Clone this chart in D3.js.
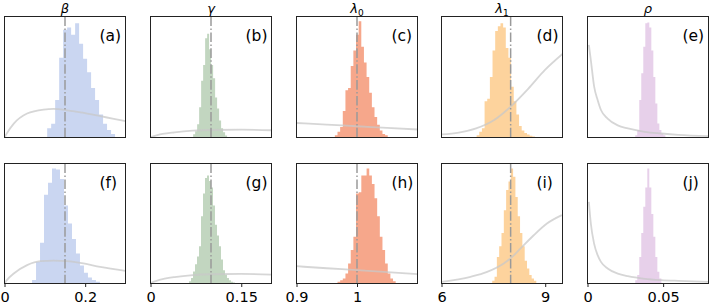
<!DOCTYPE html>
<html>
<head>
<meta charset="utf-8">
<script src="https://cdn.jsdelivr.net/npm/d3@7"></script>
<style>
  body { margin: 0; background: #fff; }
  text { font-family: "DejaVu Sans", sans-serif; }
</style>
</head>
<body>
<svg id="chart" width="709" height="307"></svg>
<script>
// parameter columns
const PARAMS = ["β", "γ", "λ", "λ", "ρ"];
const PARAM_SUBS = ["", "", "0", "1", ""];
const PANEL_LABELS = [["(a)", "(b)", "(c)", "(d)", "(e)"], ["(f)", "(g)", "(h)", "(i)", "(j)"]];
const X_DOMAINS = [[0, 0.3], [0, 0.2], [0.9, 1.1], [6, 9.5], [0, 0.08]];
const TICKS = [[0, 0.2], [0, 0.15], [0.9, 1], [6, 9], [0, 0.05]];
const TRUE_VALUES = [0.15, 0.1, 1, 8, null];
const HIST_COLORS = ["#cad6f1", "#c2d6c0", "#f6a78b", "#fdd39d", "#e7d0ea"];

// histograms: [first bin edge, bin width, heights] (heights scaled to axis height)
const histA = [0.1058, 0.0099, [0.076, 0.113, 0.31, 0.66, 0.89, 0.91, 0.85, 0.945, 0.775, 0.65, 0.54, 0.41, 0.31, 0.19, 0.113, 0.061, 0.028]];
const histB = [0.0705, 0.0033, [0.026, 0.051, 0.11, 0.25, 0.47, 0.6, 0.82, 0.857, 0.73, 0.6, 0.49, 0.33, 0.24, 0.14, 0.077, 0.043, 0.017]];
const histC = [0.9634, 0.00437, [0.019, 0.048, 0.086, 0.22, 0.39, 0.41, 0.59, 0.72, 0.85, 0.96, 0.75, 0.62, 0.5, 0.37, 0.25, 0.17, 0.105, 0.058, 0.029, 0.019]];
const histD = [7.016, 0.0767, [0.019, 0.047, 0.076, 0.3, 0.32, 0.5, 0.72, 0.88, 0.92, 0.945, 0.91, 0.74, 0.66, 0.42, 0.3, 0.19, 0.095, 0.057, 0.038, 0.024, 0.014, 0.009]];
const histE = [0.03156, 0.00133, [0.019, 0.061, 0.31, 0.53, 0.75, 0.945, 0.95, 0.91, 0.72, 0.5, 0.28, 0.116, 0.061, 0.033, 0.019]];
const histF = [0.0683, 0.0099, [0.03, 0.18, 0.34, 0.74, 0.84, 0.958, 0.95, 0.87, 0.65, 0.5, 0.37, 0.25, 0.15, 0.09, 0.05, 0.03, 0.015]];
const histG = [0.0637, 0.0033, [0.018, 0.045, 0.1, 0.16, 0.225, 0.31, 0.56, 0.75, 0.88, 0.9, 0.855, 0.8, 0.65, 0.49, 0.4, 0.31, 0.2, 0.11, 0.072, 0.045, 0.027, 0.014, 0.009]];
const histH = [0.9678, 0.00437, [0.014, 0.028, 0.042, 0.083, 0.167, 0.28, 0.39, 0.75, 0.76, 0.9, 0.9, 0.958, 0.9, 0.83, 0.71, 0.56, 0.39, 0.28, 0.167, 0.083, 0.042, 0.019]];
const histI = [7.467, 0.0671, [0.022, 0.056, 0.22, 0.31, 0.42, 0.61, 0.78, 0.85, 0.958, 0.89, 0.72, 0.56, 0.42, 0.31, 0.19, 0.125, 0.07, 0.042, 0.022]];
const histJ = [0.03156, 0.00133, [0.028, 0.07, 0.22, 0.42, 0.64, 0.8, 0.958, 0.8, 0.58, 0.39, 0.22, 0.097, 0.042]];

// prior densities, same vertical units
const priorA = [[0, 0], [0.005, 0.03], [0.023, 0.115], [0.056, 0.198], [0.097, 0.231], [0.122, 0.236], [0.155, 0.225], [0.197, 0.203], [0.238, 0.176], [0.271, 0.154], [0.3, 0.135]];
const priorB = [[0, 0.004], [0.01, 0.018], [0.02, 0.03], [0.04, 0.043], [0.07, 0.056], [0.1, 0.062], [0.15, 0.065], [0.2, 0.06]];
const priorC = [[0.9, 0.12], [0.95, 0.106], [1.0, 0.093], [1.05, 0.079], [1.1, 0.066]];
const priorD = [[6, 0.025], [6.5, 0.04], [7, 0.075], [7.5, 0.14], [8, 0.255], [8.5, 0.4], [9, 0.56], [9.5, 0.69]];
const priorE = [[0.0009, 0.765], [0.0022, 0.64], [0.0044, 0.42], [0.0067, 0.31], [0.0089, 0.227], [0.0133, 0.157], [0.02, 0.1], [0.0267, 0.075], [0.0378, 0.047], [0.0489, 0.033], [0.06, 0.022], [0.08, 0.011]];
const priorF = [[0, 0], [0.005, 0.025], [0.023, 0.083], [0.056, 0.153], [0.089, 0.186], [0.122, 0.19], [0.155, 0.186], [0.196, 0.167], [0.237, 0.139], [0.3, 0.106]];
const priorG = [[0, 0.004], [0.01, 0.022], [0.02, 0.036], [0.04, 0.054], [0.07, 0.07], [0.1, 0.077], [0.15, 0.08], [0.2, 0.074]];
const priorH = [[0.9, 0.144], [0.95, 0.127], [1.0, 0.111], [1.05, 0.094], [1.1, 0.078]];
const priorI = [[6, 0.014], [6.84, 0.056], [7.32, 0.097], [7.8, 0.167], [7.99, 0.208], [8.28, 0.29], [8.66, 0.4], [9.05, 0.5], [9.48, 0.57]];
const priorJ = [[0.0009, 0.68], [0.0022, 0.5], [0.0044, 0.33], [0.0067, 0.236], [0.0089, 0.18], [0.0133, 0.125], [0.02, 0.083], [0.0267, 0.061], [0.0378, 0.039], [0.0489, 0.028], [0.06, 0.022], [0.08, 0.014]];

const HISTS = [[histA, histB, histC, histD, histE], [histF, histG, histH, histI, histJ]];
const PRIORS = [[priorA, priorB, priorC, priorD, priorE], [priorF, priorG, priorH, priorI, priorJ]];

const PANEL_W = 121;
const PANEL_STEP = 145.75;
const ROW_TOP = [16, 163];
const ROW_H = [121, 120];

const svg = d3.select("#chart");

ROW_TOP.forEach((top, row) => {
    PARAMS.forEach((p, col) => {
        const left = Math.round(4 + col * PANEL_STEP) + 0.5;
        const h = ROW_H[row];
        const x = d3.scaleLinear().domain(X_DOMAINS[col]).range([0, PANEL_W]);
        const y = d3.scaleLinear().domain([0, 1]).range([h, 0]);
        const id = `clip-${row}-${col}`;

        const g = svg.append("g").attr("transform", `translate(${left},${top + 0.5})`);
        g.append("clipPath").attr("id", id)
            .append("rect").attr("width", PANEL_W).attr("height", h);

        const body = g.append("g").attr("clip-path", `url(#${id})`);

        // histogram as one stepped area
        const [start, binW, heights] = HISTS[row][col];
        const steps = heights.map((v, i) => [start + i * binW, v]);
        steps.push([start + heights.length * binW, heights[heights.length - 1]]);
        const area = d3.area()
            .x(d => x(d[0]))
            .y0(y(0))
            .y1(d => y(d[1]))
            .curve(d3.curveStepAfter);
        body.append("path")
            .attr("d", area(steps))
            .attr("fill", HIST_COLORS[col]);

        const line = d3.line().x(d => x(d[0])).y(d => y(d[1])).curve(d3.curveMonotoneX);
        body.append("path")
            .attr("d", line(PRIORS[row][col]))
            .attr("fill", "none")
            .attr("stroke", "#c8c8c8")
            .attr("stroke-opacity", 0.75)
            .attr("stroke-width", 1.8);

        if (TRUE_VALUES[col] !== null) {
            body.append("line")
                .attr("x1", x(TRUE_VALUES[col])).attr("x2", x(TRUE_VALUES[col]))
                .attr("y1", 0).attr("y2", h)
                .attr("stroke", "#9a9a9a")
                .attr("stroke-width", 1.5)
                .attr("stroke-dasharray", "9.6,2.4,1.5,2.4");
        }

        g.append("rect")
            .attr("width", PANEL_W).attr("height", h)
            .attr("fill", "none")
            .attr("stroke", "#222")
            .attr("stroke-width", 1);

        g.append("text")
            .attr("x", 95).attr("y", 24)
            .attr("font-size", 15.5)
            .attr("fill", "#000")
            .text(PANEL_LABELS[row][col]);

        if (row === 0) {
            const t = g.append("text")
                .attr("x", PANEL_W / 2).attr("y", -4)
                .attr("text-anchor", "middle")
                .attr("font-size", 13)
                .attr("font-style", "italic");
            t.append("tspan").text(p);
            if (PARAM_SUBS[col]) {
                t.append("tspan").attr("font-size", 9).attr("font-style", "normal")
                    .attr("dy", 3).text(PARAM_SUBS[col]);
            }
        } else {
            const axis = d3.axisBottom(x)
                .tickValues(TICKS[col])
                .tickSize(3.5)
                .tickPadding(5)
                .tickFormat(d3.format("~g"));
            const ax = g.append("g").attr("transform", `translate(0,${h})`).call(axis);
            ax.select(".domain").remove();
            ax.selectAll("line").attr("stroke", "#222");
            ax.selectAll("text")
                .attr("font-size", 14.5)
                .attr("font-family", "DejaVu Sans")
                .attr("fill", "#000");
        }
    });
});
</script>
</body>
</html>
